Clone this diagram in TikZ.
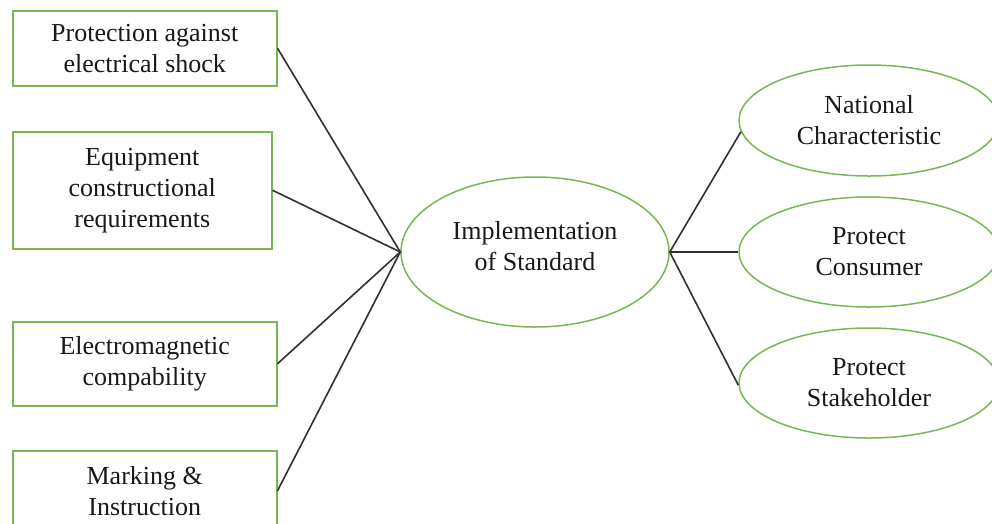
\documentclass[tikz,border=0pt]{standalone}
\usepackage{fontspec}
\setmainfont{Liberation Serif}
\usetikzlibrary{shapes.geometric}
\definecolor{leafgreen}{HTML}{7AB654}
\definecolor{linkgray}{HTML}{303030}
\begin{document}
\begin{tikzpicture}[x=1pt,y=-1pt,
  txt/.style={font=\fontsize{26}{31}\selectfont, align=center, text=black!90},
  reqbox/.style={txt, draw=leafgreen, line width=1.5pt, rectangle, inner sep=0pt, anchor=north west},
  goal/.style={txt, draw=leafgreen, line width=1.5pt, ellipse, inner sep=0pt},
  link/.style={draw=linkgray, line width=1.6pt}]
\clip (0,0) rectangle (992,523);
\fill[white] (0,0) rectangle (992,523);

% requirement boxes on the left
\node[reqbox, minimum width=264pt, minimum height=75pt] (shock) at (12,10) {Protection against\\electrical shock};
\node[reqbox, minimum width=259pt, minimum height=117pt] (constr) at (12,131) {Equipment\\constructional\\requirements};
\node[reqbox, minimum width=264pt, minimum height=84pt] (emc) at (12,321) {Electromagnetic\\compability};
\node[reqbox, minimum width=264pt, minimum height=80pt] (mark) at (12,450) {Marking \&\\Instruction};

% central ellipse
\node[goal, minimum width=268pt, minimum height=150pt] (impl) at (535,252) {};
\node[txt] (impltext) at (535,246) {Implementation\\of Standard};

% outcome ellipses on the right
\node[goal, minimum width=260pt, minimum height=111pt] (natl) at (869,120.5) {National\\Characteristic};
\node[goal, minimum width=260pt, minimum height=110pt] (cons) at (869,252) {Protect\\Consumer};
\node[goal, minimum width=260pt, minimum height=110pt] (stake) at (869,383) {Protect\\Stakeholder};

% connectors
\draw[link] (shock.east) -- (impl.west);
\draw[link] (constr.east) -- (impl.west);
\draw[link] (emc.east) -- (impl.west);
\draw[link] (mark.east) -- (impl.west);
\draw[link] (impl.east) -- (natl.185);
\draw[link] (impl.east) -- (cons.west);
\draw[link] (impl.east) -- (stake.181);
\end{tikzpicture}
\end{document}
